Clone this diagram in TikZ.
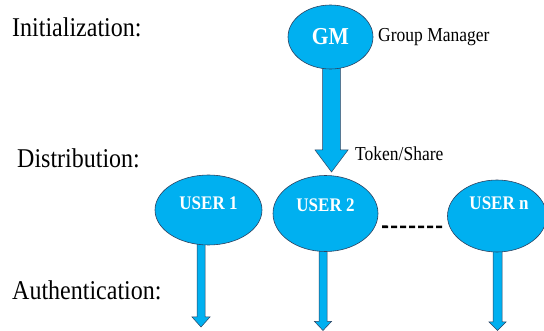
\documentclass[tikz,border=0pt]{standalone}
\usepackage{fontspec}
\usepackage{graphicx}
\setmainfont{Liberation Serif}
\usetikzlibrary{shapes.geometric,calc,backgrounds}
\definecolor{nodeblue}{RGB}{0,176,240}
\definecolor{edgeblue}{RGB}{45,65,95}
% text is set slightly taller than wide throughout
\newcommand\tall[1]{\scalebox{1}[1.13]{#1}}
\tikzset{
  stage/.style={anchor=base west, inner sep=0pt, font=\fontsize{24}{28}\selectfont},
  note/.style={anchor=base west, inner sep=0pt, font=\fontsize{17.5}{21}\selectfont},
  bubble/.style={ellipse, fill=nodeblue, draw=edgeblue, line width=0.6pt, inner sep=0pt},
  bubbletext/.style={text=white, inner sep=0pt, font=\bfseries\fontsize{17}{20}\selectfont},
  gmtext/.style={text=white, inner sep=0pt, font=\bfseries\fontsize{21.5}{24}\selectfont},
  arrowbody/.style={fill=nodeblue, draw=edgeblue, line width=0.5pt, line join=miter},
  ellipsis/.style={draw=black, line width=2.6pt, dash pattern=on 6pt off 3pt},
}
% block arrow: #1 top of shaft, #2 tip, #3 shaft half width, #4 head half width, #5 head length
\newcommand\blockarrow[5]{%
  \draw[arrowbody] let \p1=(#1), \p2=(#2) in
    (\x1-#3pt,\y1) -- (\x1-#3pt,\y2+#5pt) -- (\x1-#4pt,\y2+#5pt) -- (\x1,\y2)
    -- (\x1+#4pt,\y2+#5pt) -- (\x1+#3pt,\y2+#5pt) -- (\x1+#3pt,\y1) -- cycle;}
\begin{document}
\begin{tikzpicture}[x=1pt,y=-1pt]
  \useasboundingbox (0,0) rectangle (544,331);

  % stage labels
  \node[stage] (init) at (12,37)  {\tall{Initialization:}};
  \node[stage] (dist) at (17,168) {\tall{Distribution:}};
  \node[stage] (auth) at (12,300) {\tall{Authentication:}};

  % group manager and users
  \node[bubble, minimum width=85pt, minimum height=64pt] (gm) at (330.5,37) {};
  \node[gmtext] (gmlabel) at (gm.center) {\tall{GM}};
  \node[note] (gmnote) at (378,42) {\tall{Group Manager}};

  \node[bubble, minimum width=107pt, minimum height=70pt] (u1) at (208.5,210) {};
  \node[bubbletext] (u1label) at ($(u1.center)+(0,-7)$) {\tall{USER 1}};

  \node[bubble, minimum width=105pt, minimum height=76pt] (u2) at (325.5,213.5) {};
  \node[bubbletext] (u2label) at ($(u2.center)+(0,-8)$) {\tall{USER 2}};

  \node[bubble, minimum width=99pt, minimum height=72pt] (un) at (497,216) {};
  \node[bubbletext] (unlabel) at ($(un.center)+(2,-13)$) {\tall{USER n}};

  \node[note] (token) at (355,161) {\tall{Token/Share}};

  % users in between
  \draw[ellipsis, shorten <=7pt, shorten >=5pt] (u2.-15) -- (un.193);

  % tips of the block arrows
  \coordinate (gmtip) at (331.5,172);
  \coordinate (u1tip) at (201,327);
  \coordinate (u2tip) at (323,330.5);
  \coordinate (untip) at (497.5,330.5);

  \begin{scope}[on background layer]
    \blockarrow{$(gm.south)+(1,-4)$}{gmtip}{8.8}{16.5}{22}
    \blockarrow{$(u1.south)+(-7.5,-4)$}{u1tip}{4}{9}{10}
    \blockarrow{$(u2.south)+(-2.5,-4)$}{u2tip}{4}{8.5}{9}
    \blockarrow{$(un.south)+(0.5,-4)$}{untip}{4.5}{8.5}{8.5}
  \end{scope}
\end{tikzpicture}
\end{document}
